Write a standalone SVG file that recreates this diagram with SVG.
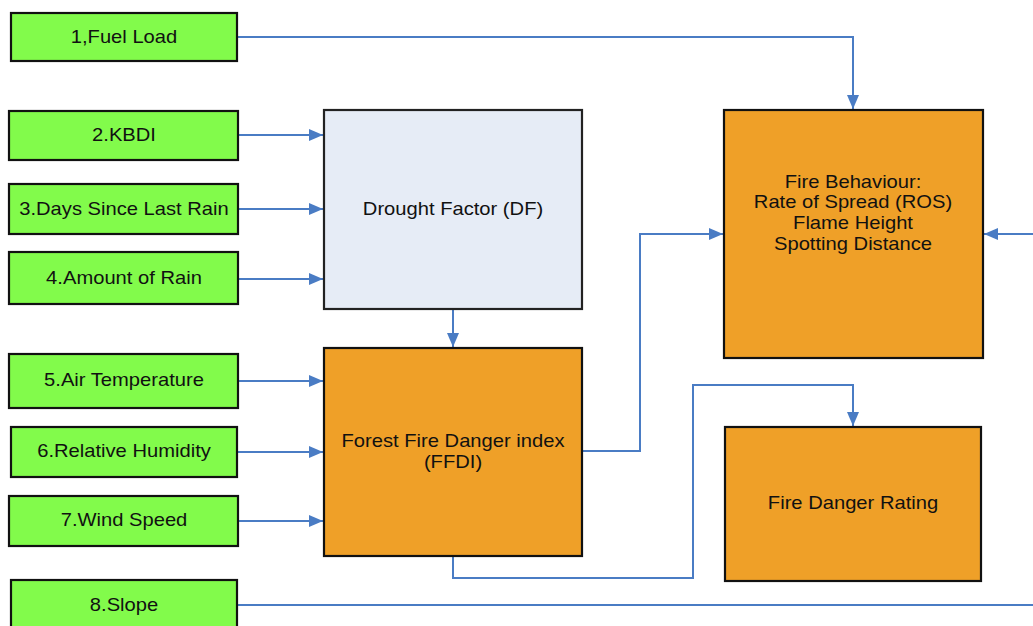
<svg xmlns="http://www.w3.org/2000/svg" width="1033" height="626" viewBox="0 0 1033 626">
<style>
.in{fill:#82fb4b;stroke:#111;stroke-width:2.2}
.or{fill:#efa028;stroke:#111;stroke-width:2.2}
.df{fill:#e6ecf6;stroke:#222;stroke-width:2.2}
text{font-family:"Liberation Sans",Arial,sans-serif;font-size:18px;fill:#111;text-anchor:middle;dominant-baseline:central}
.c{fill:none;stroke:#4a7cc4;stroke-width:2}
</style>
<defs>
<marker id="ah" markerUnits="userSpaceOnUse" markerWidth="14" markerHeight="12" refX="14" refY="6" orient="auto">
<path d="M0,0 L14,6 L0,12 Z" fill="#4a7cc4"/>
</marker>
</defs>
<rect width="1033" height="626" fill="#fff"/>
<g id="connectors">
<path class="c" d="M237,37 H853 V109" marker-end="url(#ah)"/>
<path class="c" d="M238,135 H323" marker-end="url(#ah)"/>
<path class="c" d="M238,209 H323" marker-end="url(#ah)"/>
<path class="c" d="M238,279 H323" marker-end="url(#ah)"/>
<path class="c" d="M453,309 V347" marker-end="url(#ah)"/>
<path class="c" d="M238,381 H323" marker-end="url(#ah)"/>
<path class="c" d="M237,452 H323" marker-end="url(#ah)"/>
<path class="c" d="M238,521 H323" marker-end="url(#ah)"/>
<path class="c" d="M582,451 H640 V234 H723" marker-end="url(#ah)"/>
<path class="c" d="M1033,234 H984" marker-end="url(#ah)"/>
<path class="c" d="M453,556 V578 H693 V385 H853 V426" marker-end="url(#ah)"/>
<path class="c" d="M237,605 H1033"/>
</g>
<g id="n1"><rect class="in" x="11" y="13" width="226" height="48"/><text transform="translate(124,37) scale(1.12,1)">1,Fuel Load</text></g>
<g id="n2"><rect class="in" x="9" y="111" width="229" height="49"/><text transform="translate(124,135) scale(1.12,1)">2.KBDI</text></g>
<g id="n3"><rect class="in" x="9" y="184" width="229" height="50"/><text transform="translate(124,209) scale(1.12,1)">3.Days Since Last Rain</text></g>
<g id="n4"><rect class="in" x="9" y="252" width="229" height="52"/><text transform="translate(124,278) scale(1.12,1)">4.Amount of Rain</text></g>
<g id="n5"><rect class="in" x="9" y="354" width="229" height="54"/><text transform="translate(124,380) scale(1.12,1)">5.Air Temperature</text></g>
<g id="n6"><rect class="in" x="11" y="427" width="226" height="50"/><text transform="translate(124,451) scale(1.12,1)">6.Relative Humidity</text></g>
<g id="n7"><rect class="in" x="9" y="496" width="229" height="50"/><text transform="translate(124,520) scale(1.12,1)">7.Wind Speed</text></g>
<g id="n8"><rect class="in" x="11" y="580" width="226" height="60"/><text transform="translate(124,605) scale(1.12,1)">8.Slope</text></g>
<g id="df"><rect class="df" x="324" y="110" width="258" height="199"/><text transform="translate(453,209) scale(1.12,1)">Drought Factor (DF)</text></g>
<g id="ffdi"><rect class="or" x="324" y="348" width="258" height="208"/><text transform="translate(453,441) scale(1.12,1)">Forest Fire Danger index</text><text transform="translate(453,462) scale(1.12,1)">(FFDI)</text></g>
<g id="fb"><rect class="or" x="724" y="110" width="259" height="248"/><text transform="translate(853,182) scale(1.12,1)">Fire Behaviour:</text><text transform="translate(853,202) scale(1.12,1)">Rate of Spread (ROS)</text><text transform="translate(853,223) scale(1.12,1)">Flame Height</text><text transform="translate(853,244) scale(1.12,1)">Spotting Distance</text></g>
<g id="fdr"><rect class="or" x="725" y="427" width="256" height="154"/><text transform="translate(853,503) scale(1.12,1)">Fire Danger Rating</text></g>
</svg>
